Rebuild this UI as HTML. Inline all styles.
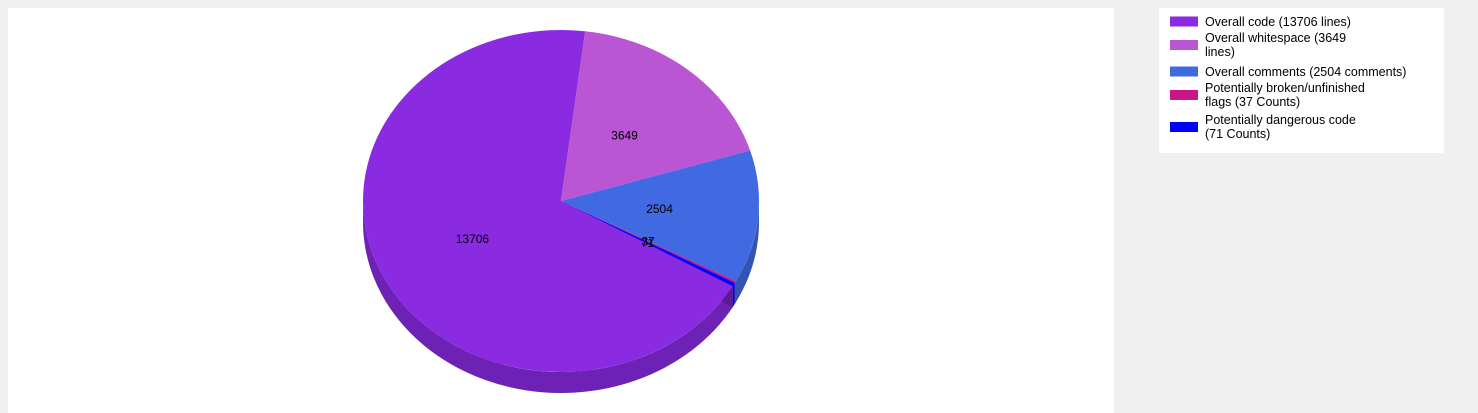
<!DOCTYPE html>
<html><head><meta charset="utf-8"><style>
body{margin:0;background:#f0f0f0;width:1478px;height:413px;overflow:hidden;font-family:"Liberation Sans",sans-serif}
svg{position:absolute;left:0;top:0}
</style></head><body>
<svg width="1478" height="413">
<rect x="8" y="8" width="1106" height="405" fill="#fff"/>
<g id="pie"></g>
<g id="legend"></g>
</svg>
<script>
const categories=["Overall code (13706 lines)","Overall whitespace (3649 lines)","Overall comments (2504 comments)","Potentially broken/unfinished flags (37 Counts)","Potentially dangerous code (71 Counts)"];
const values=[13706,3649,2504,37,71];
const legendLines=[["Overall code (13706 lines)"],["Overall whitespace (3649","lines)"],["Overall comments (2504 comments)"],["Potentially broken/unfinished","flags (37 Counts)"],["Potentially dangerous code","(71 Counts)"]];
const colors=["#8a2be2","#ba55d3","#4169e1","#c71585","#0000ff"];
const sides=["#6e22b5","#9544a9","#3454b4","#9f116a","#0000cc"];
const NS="http://www.w3.org/2000/svg";
const cx=561,cy=201,rx=198,ry=171,depth=21,startDeg=29.9;
const pie=document.getElementById('pie');
function mk(t,a){const e=document.createElementNS(NS,t);for(const k in a)e.setAttribute(k,a[k]);return e;}
function pt(d,dy){const r=d*Math.PI/180;return [cx+rx*Math.cos(r),cy+ry*Math.sin(r)+(dy||0)];}
const total=values.reduce((a,b)=>a+b,0);
let angles=[],a=startDeg;
values.forEach(v=>{const s=v/total*360;angles.push([a,a+s]);a+=s;});
// side walls
angles.forEach(([s,e],i)=>{
  for(let k=0;k<2;k++){
    let lo=Math.max(s,k*360),hi=Math.min(e,k*360+180);
    if(hi<=lo)continue;
    const p1=pt(lo),p2=pt(hi),p3=pt(hi,depth),p4=pt(lo,depth);
    const big=(hi-lo)>180?1:0;
    const p=mk('path',{d:`M${p1}A${rx},${ry} 0 ${big} 1 ${p2}L${p3}A${rx},${ry} 0 ${big} 0 ${p4}Z`,fill:sides[i]});
    
    
    pie.appendChild(p);
  }
});
// radial wall at code start
{const p=pt(startDeg),q=pt(startDeg,depth);
const w=mk('path',{d:`M${cx},${cy}L${p}L${q}L${cx},${cy+depth}Z`,fill:"#5a1c95"});


pie.appendChild(w);}
// top faces
angles.forEach(([s,e],i)=>{
  const p1=pt(s),p2=pt(e),big=(e-s)>180?1:0;
  const p=mk('path',{d:`M${cx},${cy}L${p1}A${rx},${ry} 0 ${big} 1 ${p2}Z`,fill:colors[i]});
  
  
  pie.appendChild(p);
});
angles.forEach(([s,e],i)=>{
  const m=(s+e)/2*Math.PI/180;
  const t=mk('text',{x:cx+rx*0.5*Math.cos(m),y:cy+ry*0.5*Math.sin(m)+4,'text-anchor':'middle','font-size':'12',fill:'#000'});
  t.textContent=values[i];
  
  
  pie.appendChild(t);
});
// legend
const lg=document.getElementById('legend');
const box=mk('rect',{x:1159,y:8,width:285,height:145,fill:'#fff'});


lg.appendChild(box);
const rowTops=[14,30,64,80,112];
legendLines.forEach((lines,i)=>{
  const y0=rowTops[i];
  const h=lines.length*15;
  const sw=mk('rect',{x:1170,y:y0+h/2-5,width:28,height:10,fill:colors[i]});
  
  
  lg.appendChild(sw);
  lines.forEach((ln,j)=>{
    const t=mk('text',{x:1205,y:y0+12+j*14,'font-size':'12.5',fill:'#000'});
    t.textContent=ln;
    
    
    lg.appendChild(t);
  });
});
</script>
</body></html>
